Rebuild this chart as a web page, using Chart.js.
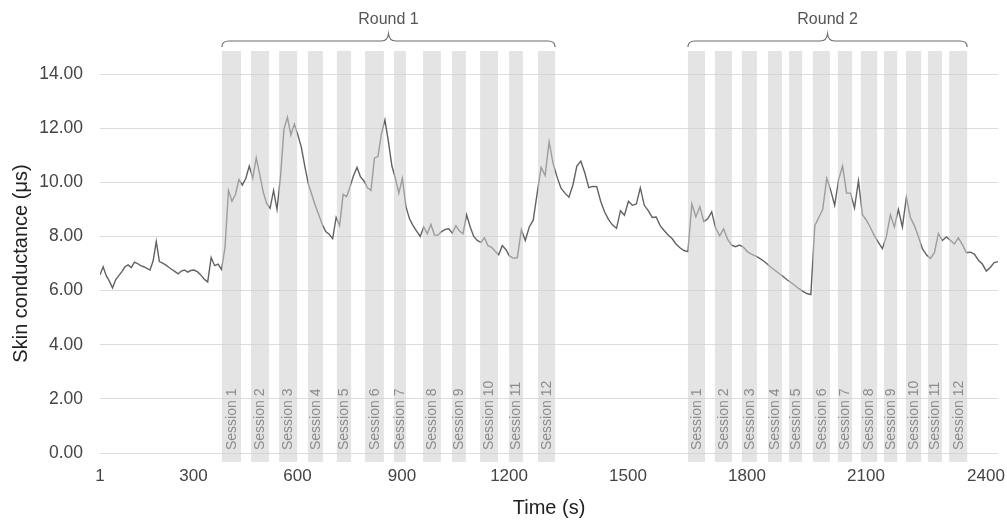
<!DOCTYPE html>
<html>
<head>
<meta charset="utf-8">
<title>Skin conductance</title>
<script src="https://cdn.jsdelivr.net/npm/chart.js@4.4.1/dist/chart.umd.min.js"></script>
<style>
  html, body { margin: 0; padding: 0; background: #fff; }
  #wrap { position: relative; width: 1007px; height: 520px; }
</style>
</head>
<body>
<div id="wrap"><canvas id="sc-chart"></canvas></div>
<script>
// one reading every 10 s, starting at t = 1 s
const sample_start = 1;
const sample_step = 10;
const conductance = [
  6.58, 6.88, 6.55, 6.35, 6.10, 6.40, 6.55, 6.70, 6.88, 6.95,
  6.85, 7.05, 7.00, 6.92, 6.88, 6.82, 6.76, 7.10, 7.81, 7.07,
  7.01, 6.95, 6.86, 6.78, 6.70, 6.62, 6.72, 6.76, 6.68, 6.74,
  6.76, 6.70, 6.58, 6.42, 6.32, 7.22, 6.92, 6.98, 6.78, 7.60,
  9.70, 9.30, 9.55, 10.10, 9.90, 10.15, 10.60, 10.15, 10.90, 10.30,
  9.65, 9.22, 9.04, 9.70, 9.00, 10.20, 11.95, 12.40, 11.75, 12.15,
  11.75, 11.30, 10.60, 9.95, 9.55, 9.15, 8.80, 8.45, 8.18, 8.08,
  7.92, 8.70, 8.40, 9.55, 9.47, 9.84, 10.25, 10.55, 10.20, 10.05,
  9.80, 9.70, 10.90, 10.95, 11.80, 12.30, 11.50, 10.60, 10.15, 9.60,
  10.15, 9.10, 8.65, 8.40, 8.20, 8.00, 8.35, 8.10, 8.45, 8.05,
  8.05, 8.18, 8.26, 8.28, 8.12, 8.40, 8.20, 8.10, 8.80, 8.36,
  8.00, 7.85, 7.78, 7.95, 7.66, 7.60, 7.45, 7.32, 7.66, 7.52,
  7.28, 7.19, 7.22, 8.25, 7.85, 8.35, 8.60, 9.60, 10.55, 10.25,
  11.50, 10.70, 10.20, 9.78, 9.60, 9.45, 9.90, 10.60, 10.78, 10.35,
  9.80, 9.85, 9.84, 9.30, 8.90, 8.62, 8.42, 8.30, 8.95, 8.78,
  9.30, 9.15, 9.20, 9.80, 9.15, 8.95, 8.70, 8.72, 8.40, 8.22,
  8.05, 7.92, 7.72, 7.58, 7.48, 7.44, 9.20, 8.72, 9.10, 8.55,
  8.65, 8.91, 8.30, 8.02, 8.28, 7.90, 7.68, 7.62, 7.68, 7.60,
  7.44, 7.35, 7.28, 7.20, 7.10, 6.98, 6.85, 6.74, 6.63, 6.52,
  6.40, 6.30, 6.19, 6.07, 5.97, 5.89, 5.85, 8.40, 8.70, 9.00,
  10.15, 9.70, 9.15, 10.10, 10.60, 9.60, 9.60, 9.05, 10.05, 8.80,
  8.60, 8.33, 8.02, 7.78, 7.55, 8.00, 8.80, 8.35, 9.00, 8.35,
  9.45, 8.70, 8.40, 8.00, 7.55, 7.32, 7.19, 7.40, 8.10, 7.85,
  7.98, 7.86, 7.72, 7.95, 7.70, 7.40, 7.42, 7.35, 7.12, 6.98,
  6.72, 6.85, 7.03, 7.07
];

const tick_times = [1, 300, 600, 900, 1200, 1500, 1800, 2100, 2400];
const y_ticks = [0, 2, 4, 6, 8, 10, 12, 14];

// session windows (s) of each round
const round_names = ["Round 1", "Round 2"];
const round1_start = [382, 466, 547, 630, 713, 794, 877, 959, 1040, 1119, 1200, 1273];
const round1_end = [437, 518, 599, 673, 754, 848, 911, 1009, 1079, 1169, 1235, 1316];
const round2_start = [1651, 1719, 1787, 1853, 1906, 1966, 2029, 2087, 2145, 2200, 2255, 2308];
const round2_end = [1694, 1762, 1825, 1888, 1939, 2009, 2065, 2128, 2178, 2238, 2290, 2353];
const session_names = round1_start.map((_, i) => "Session " + (i + 1));

const rounds = [
  { name: round_names[0], start: round1_start, end: round1_end },
  { name: round_names[1], start: round2_start, end: round2_end }
];

const points = conductance.map((v, i) => ({ x: sample_start + i * sample_step, y: v }));

const FONT = "'Liberation Sans', Arial, sans-serif";

// time axis whose spacing between labelled times is set piece by piece
class PiecewiseScale extends Chart.LinearScale {
  static id = "piecewise";

  buildTicks() {
    return this.options.tickValues.map((v) => ({ value: v }));
  }

  toDecimal(value) {
    const stops = this.options.stops;
    let i = 0;
    while (i < stops.length - 2 && value > stops[i + 1][0]) i++;
    const [t0, d0] = stops[i];
    const [t1, d1] = stops[i + 1];
    return d0 + (value - t0) / (t1 - t0) * (d1 - d0);
  }

  getPixelForValue(value) {
    if (value === null || value === undefined) return NaN;
    return this.getPixelForDecimal(this.toDecimal(value));
  }

  getValueForPixel(pixel) {
    const d = this.getDecimalForPixel(pixel);
    const stops = this.options.stops;
    let i = 0;
    while (i < stops.length - 2 && d > stops[i + 1][1]) i++;
    const [t0, d0] = stops[i];
    const [t1, d1] = stops[i + 1];
    return t0 + (d - d0) / (d1 - d0) * (t1 - t0);
  }
}
Chart.register(PiecewiseScale);

const session_bands = {
  id: "sessionBands",
  afterDatasetsDraw(chart, args, opts) {
    const { ctx } = chart;
    const x = chart.scales.x;
    const y = chart.scales.y;
    const top = y.getPixelForValue(opts.top);
    const bottom = y.getPixelForValue(opts.bottom);
    const base = y.getPixelForValue(0);
    ctx.save();
    rounds.forEach((round) => {
      // shaded windows
      ctx.fillStyle = opts.fill;
      round.start.forEach((t0, i) => {
        const x0 = x.getPixelForValue(t0);
        const x1 = x.getPixelForValue(round.end[i]);
        ctx.fillRect(x0, top, x1 - x0, bottom - top);
      });

      // vertical session names
      ctx.fillStyle = opts.labelColor;
      ctx.font = "14px " + FONT;
      ctx.textAlign = "left";
      ctx.textBaseline = "middle";
      round.start.forEach((t0, i) => {
        const cx = (x.getPixelForValue(t0) + x.getPixelForValue(round.end[i])) / 2;
        ctx.save();
        ctx.translate(cx + 0.5, base - 3);
        ctx.rotate(-Math.PI / 2);
        ctx.fillText(session_names[i], 0, 0);
        ctx.restore();
      });

      // curly brace over the round
      const bx0 = x.getPixelForValue(round.start[0]);
      const bx1 = x.getPixelForValue(round.end[round.end.length - 1]);
      const mid = (bx0 + bx1) / 2;
      const by = top - 10;
      ctx.strokeStyle = opts.braceColor;
      ctx.lineWidth = 1.2;
      ctx.beginPath();
      ctx.moveTo(bx0, top - 4);
      ctx.quadraticCurveTo(bx0, by, bx0 + 7, by);
      ctx.lineTo(mid - 7, by);
      ctx.quadraticCurveTo(mid - 1, by, mid, by - 7);
      ctx.quadraticCurveTo(mid + 1, by, mid + 7, by);
      ctx.lineTo(bx1 - 7, by);
      ctx.quadraticCurveTo(bx1, by, bx1, top - 4);
      ctx.stroke();

      ctx.fillStyle = opts.roundColor;
      ctx.font = "16px " + FONT;
      ctx.textAlign = "center";
      ctx.textBaseline = "middle";
      ctx.fillText(round.name, mid, top - 31);
    });
    ctx.restore();
  }
};

new Chart(document.getElementById("sc-chart"), {
  type: "line",
  data: {
    datasets: [{
      label: "Skin conductance",
      data: points,
      borderColor: "#626262",
      borderWidth: 1.4,
      pointRadius: 0,
      tension: 0,
      fill: false
    }]
  },
  options: {
    responsive: true,
    maintainAspectRatio: false,
    animation: false,
    events: [],
    layout: { padding: { top: 74, right: 9, bottom: 0, left: 0 } },
    plugins: {
      legend: { display: false },
      tooltip: { enabled: false },
      sessionBands: {
        top: 14.85,
        bottom: -0.33,
        fill: "rgba(205, 205, 205, 0.55)",
        labelColor: "#8c8c8c",
        braceColor: "#6a6a6a",
        roundColor: "#555555"
      }
    },
    scales: {
      x: {
        type: "piecewise",
        min: 1,
        max: 2431,
        tickValues: tick_times,
        stops: [[1, 0], [300, 0.1041], [600, 0.2199], [900, 0.3363], [1200, 0.4555],
                [1500, 0.5880], [1800, 0.7205], [2100, 0.8530], [2400, 0.9866], [2431, 1]],
        grid: { display: false, drawTicks: false },
        border: { display: false },
        ticks: {
          autoSkip: false,
          maxRotation: 0,
          padding: 13,
          color: "#444444",
          font: { family: FONT, size: 17 },
          callback: (v) => String(v)
        },
        title: {
          display: true,
          text: "Time (s)",
          color: "#222222",
          font: { family: FONT, size: 20 },
          padding: { top: 0, bottom: 0 }
        },
        afterFit: (s) => { s.height = 67; s.paddingLeft = 0; s.paddingRight = 0; }
      },
      y: {
        min: 0,
        max: 14,
        afterBuildTicks: (s) => { s.ticks = y_ticks.map((v) => ({ value: v })); },
        grid: { color: "#dddddd", lineWidth: 1, drawTicks: false },
        border: { display: false },
        ticks: {
          padding: 17,
          color: "#444444",
          font: { family: FONT, size: 17.5 },
          callback: (v) => Number(v).toFixed(2)
        },
        title: {
          display: true,
          text: "Skin conductance (μs)",
          color: "#222222",
          font: { family: FONT, size: 20 },
          padding: { top: 9, bottom: 0 }
        },
        afterFit: (s) => { s.width = 100; s.paddingTop = 0; s.paddingBottom = 0; }
      }
    }
  },
  plugins: [session_bands]
});
</script>
</body>
</html>
